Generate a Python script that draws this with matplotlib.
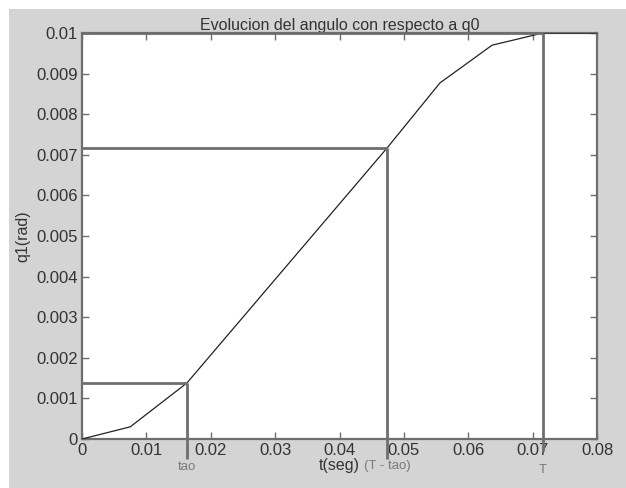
import matplotlib.pyplot as plt
from matplotlib.patches import Rectangle

# curve
t = [0.0, 0.0075, 0.0163, 0.0474, 0.0556, 0.0637, 0.0716, 0.08]
q = [0.0, 0.0003, 0.00138, 0.00717, 0.00877, 0.0097, 0.01, 0.01]

# marker lines: tao, T - tao, T
marks_t = [0.0163, 0.0474, 0.0716]
marks_q = [0.00138, 0.00717, 0.01]
mark_labels = ['tao', '(T - tao)', 'T']
mark_bottom = [-0.0005, -0.0005, -0.0003]
mark_label_y = [-0.0007, -0.00066, -0.00077]

xticks = [0, 0.01, 0.02, 0.03, 0.04, 0.05, 0.06, 0.07, 0.08]
yticks = [0, 0.001, 0.002, 0.003, 0.004, 0.005, 0.006, 0.007, 0.008, 0.009, 0.01]

plt.rcParams['font.family'] = ['Liberation Sans Narrow', 'Liberation Sans', 'DejaVu Sans']

bg = '#d4d4d4'
edge = '#6e6e6e'

fig = plt.figure(figsize=(6.26, 4.88), dpi=100, facecolor='white')
fig.patches.append(Rectangle((9 / 626, 0), 1, 1 - 9 / 488, transform=fig.transFigure,
                             facecolor=bg, edgecolor='none', zorder=-10))

ax = fig.add_axes([82 / 626, 1 - 439 / 488, 515 / 626, 406 / 488])
ax.set_facecolor('white')

ax.plot(t, q, color='#222222', lw=0.9, zorder=3)

for mt, mq, lab, yb, yl in zip(marks_t, marks_q, mark_labels, mark_bottom, mark_label_y):
    ax.plot([mt, mt], [yb, mq], color=edge, lw=2, clip_on=False, zorder=4,
            solid_capstyle='butt')
    ax.plot([0, mt], [mq, mq], color=edge, lw=2, clip_on=False, zorder=4,
            solid_capstyle='butt')
    ax.text(mt, yl, lab, ha='center', va='center', fontsize=9.5, color='#7a7a7a')

ax.set_xlim(0, 0.08)
ax.set_ylim(0, 0.01)
ax.set_xticks(xticks)
ax.set_xticklabels(['0', '0.01', '0.02', '0.03', '0.04', '0.05', '0.06', '0.07', '0.08'])
ax.set_yticks(yticks)
ax.set_yticklabels(['0', '0.001', '0.002', '0.003', '0.004', '0.005', '0.006', '0.007',
                    '0.008', '0.009', '0.01'])
ax.tick_params(direction='in', top=True, right=True, length=5, width=1, color=edge,
               labelsize=12, labelcolor='#333333', pad=3)
for s in ax.spines.values():
    s.set_color(edge)
    s.set_linewidth(1.6)

ax.set_title('Evolucion del angulo con respecto a q0', fontsize=11.5, color='#333333', pad=2)
ax.set_xlabel('t(seg)', fontsize=11.5, color='#333333', labelpad=0)
ax.set_ylabel('q1(rad)', fontsize=11.5, color='#333333', labelpad=4)

fig.savefig('out.png', dpi=100, facecolor=fig.get_facecolor())
